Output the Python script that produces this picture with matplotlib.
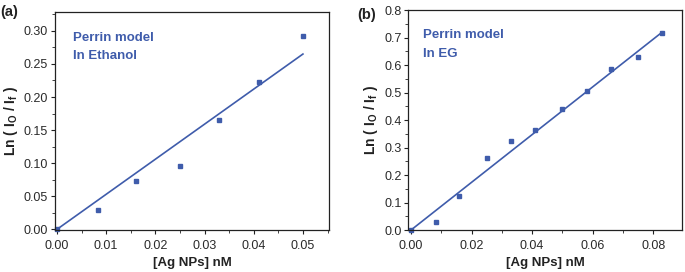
import matplotlib
matplotlib.use("Agg")
import matplotlib.pyplot as plt
import numpy as np
from matplotlib.ticker import MultipleLocator

# Data
conc_a = [0.0, 0.0083, 0.016, 0.025, 0.033, 0.041, 0.050]
ln_a = [0.0, 0.029, 0.073, 0.095, 0.165, 0.222, 0.293]
fit_a_x = [0.0, 0.050]
fit_a_y = [0.0, 0.265]

conc_b = [0.0, 0.0083, 0.016, 0.025, 0.033, 0.041, 0.050, 0.058, 0.066, 0.075, 0.083]
ln_b = [0.0, 0.030, 0.122, 0.262, 0.322, 0.365, 0.440, 0.505, 0.587, 0.628, 0.717]
fit_b_x = [0.0, 0.083]
fit_b_y = [0.0, 0.720]

xticks_a = [0.00, 0.01, 0.02, 0.03, 0.04, 0.05]
yticks_a = [0.00, 0.05, 0.10, 0.15, 0.20, 0.25, 0.30]
xticks_b = [0.00, 0.02, 0.04, 0.06, 0.08]
yticks_b = [0.0, 0.1, 0.2, 0.3, 0.4, 0.5, 0.6, 0.7, 0.8]

BLUE = "#3f5cab"
FONT = "Liberation Sans"

plt.rcParams["mathtext.fontset"] = "custom"
plt.rcParams["mathtext.bf"] = "Liberation Sans:bold"
plt.rcParams["mathtext.rm"] = "Liberation Sans"

fig = plt.figure(figsize=(6.85, 2.72), dpi=100)
ax1 = fig.add_axes([0.0803, 0.1544, 0.400, 0.8026])
ax2 = fig.add_axes([0.5961, 0.1544, 0.3991, 0.8088])

def style(ax, xt, yt, xfmt, yfmt, xminor, yminor):
    ax.set_xticks(xt)
    ax.set_xticklabels([xfmt.format(v) for v in xt], fontfamily=FONT, fontsize=9, color="#2a2a2a")
    ax.set_yticks(yt)
    ax.set_yticklabels([yfmt.format(v) for v in yt], fontfamily=FONT, fontsize=9, color="#2a2a2a")
    ax.xaxis.set_minor_locator(MultipleLocator(xminor))
    ax.yaxis.set_minor_locator(MultipleLocator(yminor))
    ax.tick_params(which="major", direction="out", length=3, width=0.8, color="#222222")
    ax.tick_params(axis="x", which="major", pad=4)
    ax.tick_params(axis="y", which="major", pad=2)
    ax.tick_params(which="minor", direction="out", length=2, width=0.6, color="#222222")
    for s in ax.spines.values():
        s.set_linewidth(0.9)
        s.set_color("#222222")
    ax.set_xlabel("[Ag NPs] nM", fontfamily=FONT, fontweight="bold", fontsize=9.5, color="#222222", labelpad=4)
    ax.set_ylabel(r"Ln ( I$_\mathbf{O}$ / I$_\mathbf{f}$ )", fontfamily=FONT, fontweight="bold", fontsize=10, color="#222222", labelpad=3)

# Panel a
ax1.plot(fit_a_x, fit_a_y, color=BLUE, lw=1.2)
ax1.plot(conc_a, ln_a, "s", color=BLUE, ms=3.2, clip_on=False)
ax1.set_xlim(-0.0004, 0.0553)
ax1.set_ylim(-0.001, 0.329)
style(ax1, xticks_a, yticks_a, "{:.2f}", "{:.2f}", 0.005, 0.025)
ax1.text(0.065, 0.88, "Perrin model", transform=ax1.transAxes, color=BLUE, fontfamily=FONT, fontweight="bold", fontsize=9.5, va="center")
ax1.text(0.065, 0.795, "In Ethanol", transform=ax1.transAxes, color=BLUE, fontfamily=FONT, fontweight="bold", fontsize=9.5, va="center")
fig.text(0.0, 0.955, "(a)", fontfamily=FONT, fontweight="bold", fontsize=10.5, va="center", ha="left", color="#222222")

# Panel b
ax2.plot(fit_b_x, fit_b_y, color=BLUE, lw=1.2)
ax2.plot(conc_b, ln_b, "s", color=BLUE, ms=3.2, clip_on=False)
ax2.set_xlim(-0.0009, 0.0894)
ax2.set_ylim(0.0, 0.8)
style(ax2, xticks_b, yticks_b, "{:.2f}", "{:.1f}", 0.01, 0.05)
ax2.text(0.055, 0.885, "Perrin model", transform=ax2.transAxes, color=BLUE, fontfamily=FONT, fontweight="bold", fontsize=9.5, va="center")
ax2.text(0.055, 0.80, "In EG", transform=ax2.transAxes, color=BLUE, fontfamily=FONT, fontweight="bold", fontsize=9.5, va="center")
fig.text(0.521, 0.945, "(b)", fontfamily=FONT, fontweight="bold", fontsize=10.5, va="center", ha="left", color="#222222")

fig.savefig("out.png", dpi=100)
